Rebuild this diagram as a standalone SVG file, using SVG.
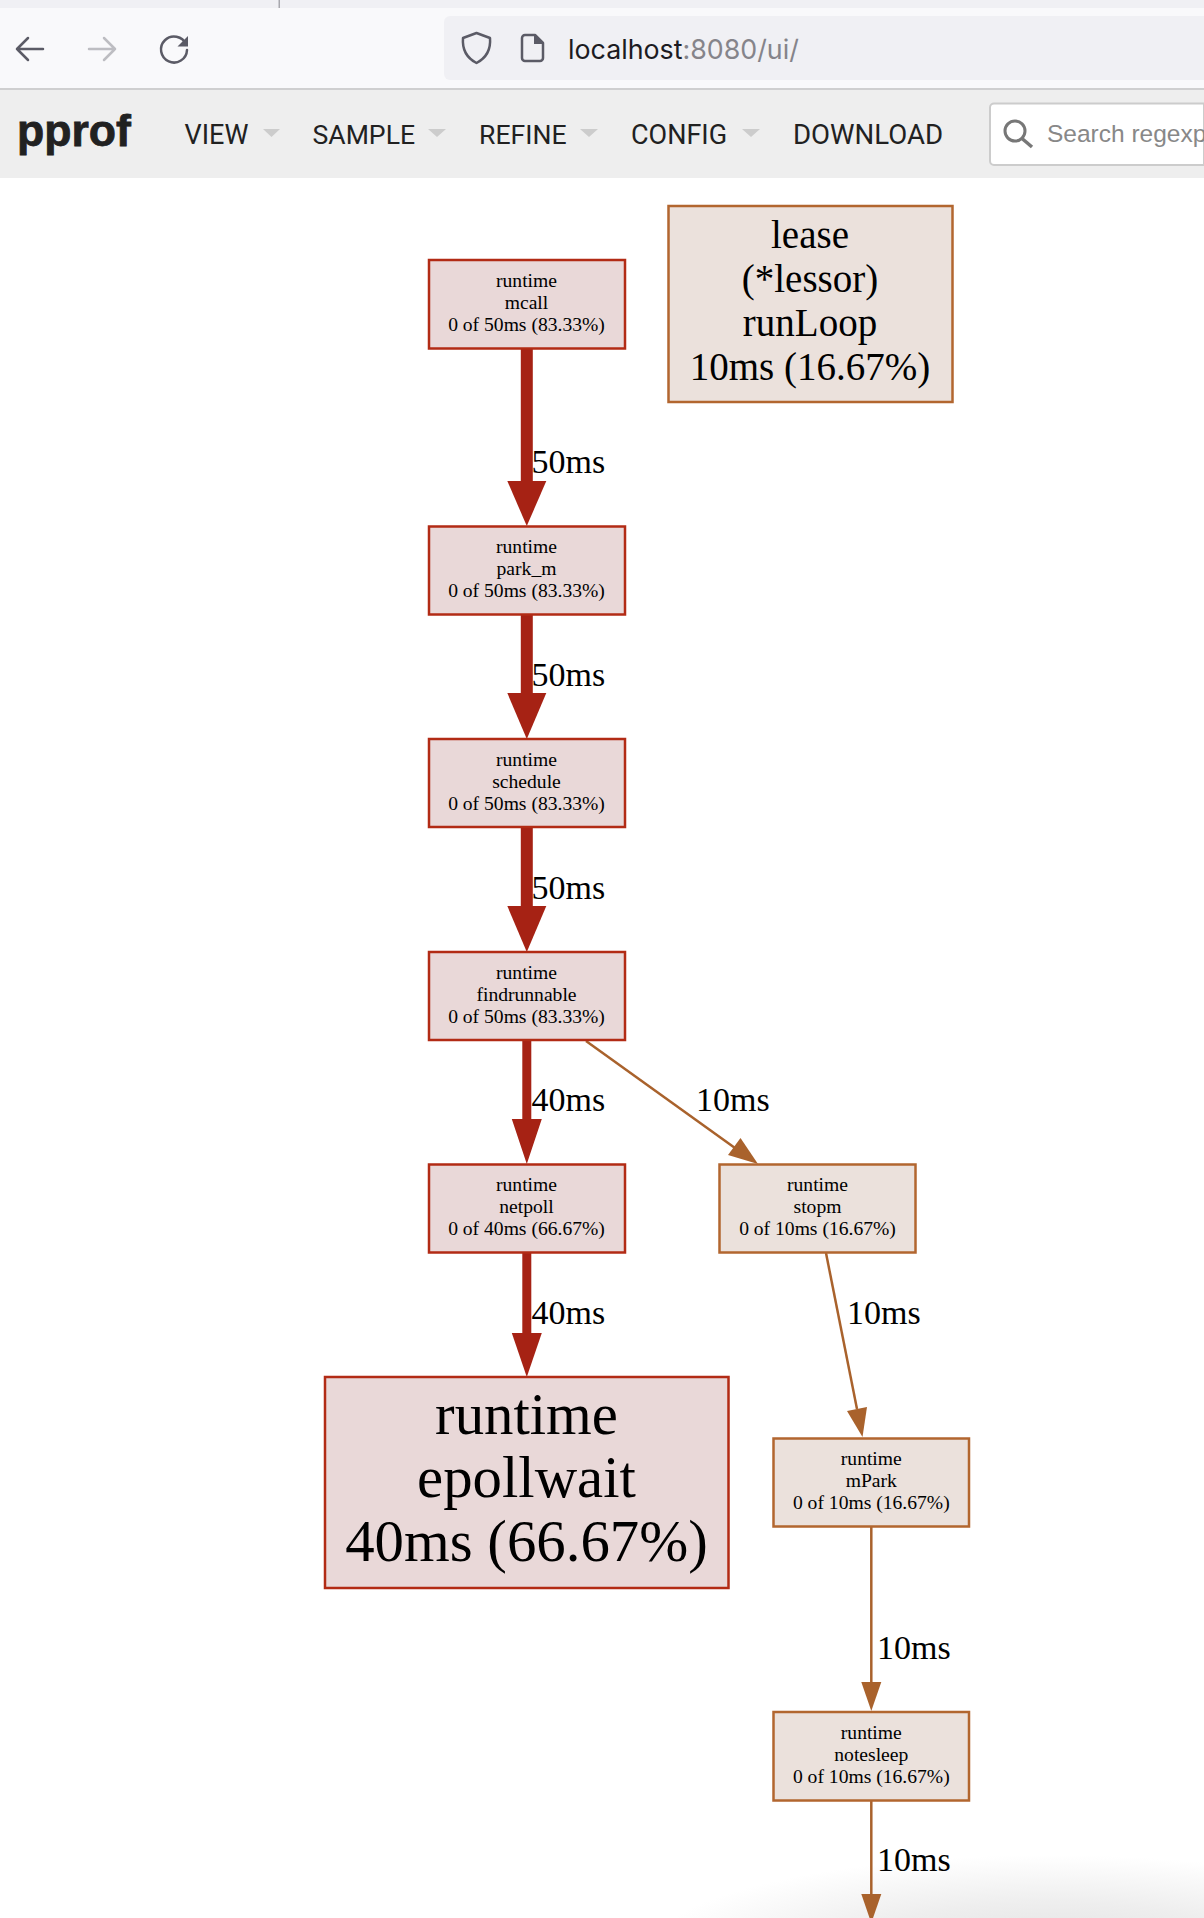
<svg xmlns="http://www.w3.org/2000/svg" width="1204" height="1918" viewBox="0 0 1204 1918">
<style>
.nd{stroke-width:2.5}
.r{fill:#e9d8d8;stroke:#b22b15}
.o{fill:#ebe1dc;stroke:#b2662f}
text{font-family:"Liberation Serif","Times New Roman",serif;fill:#000;text-anchor:middle}
.s{font-size:19.6px}
.l{font-size:34px;text-anchor:start}
.b{font-size:39px}
.h{font-size:58.8px}
.m{font-family:Roboto,"Liberation Sans",sans-serif;font-size:27px;fill:#212121;text-anchor:start}
.t{fill:#ccc}
.e1{stroke:#a62214;fill:none}
.e2{stroke:#a9622c;stroke-width:2.5;fill:none}
.a1{fill:#a62214}
.a2{fill:#a9622c}
.ic{fill:none;stroke:#5b5b66;stroke-width:2.5;stroke-linecap:round;stroke-linejoin:round}
</style>
<defs>
<radialGradient id="sh" gradientUnits="userSpaceOnUse" cx="0" cy="0" r="1" gradientTransform="translate(1050 1950) scale(400 95)"><stop offset="0" stop-color="#e2e2e2"/><stop offset="0.5" stop-color="#eeeeee"/><stop offset="1" stop-color="#ffffff"/></radialGradient>
</defs>
<rect width="1204" height="1918" fill="#fff"/>
<rect x="650" y="1850" width="554" height="68" fill="url(#sh)"/>
<g id="browser-chrome">
<rect width="1204" height="8" fill="#f0f0f4"/>
<rect x="278.500" y="0" width="1.500" height="8" fill="#a8a8ae"/>
<rect y="8" width="1204" height="80" fill="#f9f9fb"/>
<rect y="88" width="1204" height="2" fill="#cfcfd0"/>
<path d="M450 16H1204V80H450a6 6 0 0 1-6-6V22a6 6 0 0 1 6-6z" fill="#f0f0f4"/>
<path class="ic" d="M17 49H43M28 38L17 49L28 60"/>
<path class="ic" style="stroke:#bdbdc2" d="M89 49H115M104 38L115 49L104 60"/>
<path class="ic" d="M186 44.500A13 13 0 1 0 187 50"/>
<path d="M188 36V46.500H177.500z" fill="#5b5b66"/>
<path class="ic" d="M476.500 33L490 38C491 50 486 58 476.500 63C467 58 462 50 463 38z"/>
<path class="ic" d="M525 35H535L543 43V58a3 3 0 0 1-3 3H525a3 3 0 0 1-3-3V38a3 3 0 0 1 3-3z"/>
<path d="M534 35L543 44H534z" fill="#5b5b66"/>
<text x="568" y="59" style="font-family:Inter,'Liberation Sans',sans-serif;font-size:26.8px;text-anchor:start;fill:#1c1b22">localhost<tspan fill="#85848a">:8080/ui/</tspan></text>
</g>
<g id="pprof-header">
<rect y="90" width="1204" height="88" fill="#eee"/>
<text x="17" y="145.500" stroke="#212121" stroke-width="0.8" style="font-family:'Liberation Sans',Arial,sans-serif;font-size:44.6px;font-weight:700;text-anchor:start;fill:#212121">pprof</text>
<text class="m" x="184.500" y="144">VIEW</text><path class="t" d="M263 129H280L271.500 137z"/>
<text class="m" x="312.500" y="144" style="font-size:26.6px">SAMPLE</text><path class="t" d="M428 129H446L437 137z"/>
<text class="m" x="479" y="144" style="font-size:26.6px">REFINE</text><path class="t" d="M580 129H598L589 137z"/>
<text class="m" x="631" y="144">CONFIG</text><path class="t" d="M742 129H760L751 137z"/>
<text class="m" x="793" y="144" style="font-size:27.6px">DOWNLOAD</text>
<path d="M1204 103.500H994a4 4 0 0 0-4 4V161a4 4 0 0 0 4 4H1204z" fill="#fff" stroke="#ccc" stroke-width="2"/>
<circle cx="1015" cy="131" r="10" fill="none" stroke="#777" stroke-width="3"/>
<path d="M1022 138.500L1032 147" stroke="#777" stroke-width="3.500" fill="none"/>
<text x="1047" y="141.500" style="font-family:'Liberation Sans',Arial,sans-serif;font-size:24.5px;text-anchor:start;fill:#888">Search regexp</text>
</g>
<g id="connectors">
<path class="e1" stroke-width="12" d="M526.800 349V482"/><path class="a1" d="M507.300 481H546.300L526.800 526z"/>
<path class="e1" stroke-width="12" d="M526.800 615V694"/><path class="a1" d="M507.300 693H546.300L526.800 739z"/>
<path class="e1" stroke-width="12" d="M526.800 827V907"/><path class="a1" d="M507.300 906H546.300L526.800 952z"/>
<path class="e1" stroke-width="9" d="M526.800 1040V1120"/><path class="a1" d="M511.800 1119H541.800L526.800 1164z"/>
<path class="e1" stroke-width="9" d="M526.800 1253V1334"/><path class="a1" d="M511.800 1333H541.800L526.800 1377z"/>
<path class="e2" d="M586 1041L735 1148"/><path class="a2" d="M740.500 1138L728 1155L758 1164z"/>
<path class="e2" d="M826 1253L857 1409"/><path class="a2" d="M847 1411L867 1407L862.500 1437z"/>
<path class="e2" d="M871.300 1526V1683"/><path class="a2" d="M861.300 1682H881.300L871.300 1711z"/>
<path class="e2" d="M871.300 1801V1895"/><path class="a2" d="M861.300 1894H881.300L871.300 1923z"/>
</g>
<g id="edge-labels">
<text class="l" x="531.500" y="473">50ms</text>
<text class="l" x="531.500" y="686">50ms</text>
<text class="l" x="531.500" y="899">50ms</text>
<text class="l" x="531.500" y="1111">40ms</text>
<text class="l" x="696" y="1111">10ms</text>
<text class="l" x="531.500" y="1324">40ms</text>
<text class="l" x="847" y="1324">10ms</text>
<text class="l" x="877" y="1659">10ms</text>
<text class="l" x="877" y="1871">10ms</text>
</g>
<g id="node-mcall"><rect class="nd r" x="429" y="260" width="196" height="88.500"/><text class="s" x="526.500" y="287">runtime</text><text class="s" x="526.500" y="309">mcall</text><text class="s" x="526.500" y="331">0 of 50ms (83.33%)</text></g>
<g id="node-lease"><rect class="nd o" x="668.500" y="206" width="284" height="196"/><text class="b" x="810" y="247.500">lease</text><text class="b" x="810" y="291.500">(*lessor)</text><text class="b" x="810" y="335.500">runLoop</text><text class="b" x="810" y="379.500">10ms (16.67%)</text></g>
<g id="node-park_m"><rect class="nd r" x="429" y="526.500" width="196" height="88"/><text class="s" x="526.500" y="553">runtime</text><text class="s" x="526.500" y="575">park_m</text><text class="s" x="526.500" y="597">0 of 50ms (83.33%)</text></g>
<g id="node-schedule"><rect class="nd r" x="429" y="739" width="196" height="88"/><text class="s" x="526.500" y="766">runtime</text><text class="s" x="526.500" y="788">schedule</text><text class="s" x="526.500" y="810">0 of 50ms (83.33%)</text></g>
<g id="node-findrunnable"><rect class="nd r" x="429" y="952" width="196" height="88"/><text class="s" x="526.500" y="979">runtime</text><text class="s" x="526.500" y="1001">findrunnable</text><text class="s" x="526.500" y="1023">0 of 50ms (83.33%)</text></g>
<g id="node-netpoll"><rect class="nd r" x="429" y="1164.500" width="196" height="88"/><text class="s" x="526.500" y="1191">runtime</text><text class="s" x="526.500" y="1213">netpoll</text><text class="s" x="526.500" y="1235">0 of 40ms (66.67%)</text></g>
<g id="node-stopm"><rect class="nd o" x="719.500" y="1164.500" width="196" height="88"/><text class="s" x="817.500" y="1191">runtime</text><text class="s" x="817.500" y="1213">stopm</text><text class="s" x="817.500" y="1235">0 of 10ms (16.67%)</text></g>
<g id="node-epollwait"><rect class="nd r" x="325" y="1377" width="403.500" height="211"/><text class="h" x="526.500" y="1434">runtime</text><text class="h" x="526.500" y="1497">epollwait</text><text class="h" x="526.500" y="1560.500">40ms (66.67%)</text></g>
<g id="node-mPark"><rect class="nd o" x="773.500" y="1438.500" width="195.500" height="88"/><text class="s" x="871.300" y="1465">runtime</text><text class="s" x="871.300" y="1487">mPark</text><text class="s" x="871.300" y="1509">0 of 10ms (16.67%)</text></g>
<g id="node-notesleep"><rect class="nd o" x="773.500" y="1712" width="195.500" height="88.500"/><text class="s" x="871.300" y="1739">runtime</text><text class="s" x="871.300" y="1761">notesleep</text><text class="s" x="871.300" y="1783">0 of 10ms (16.67%)</text></g>
</svg>
